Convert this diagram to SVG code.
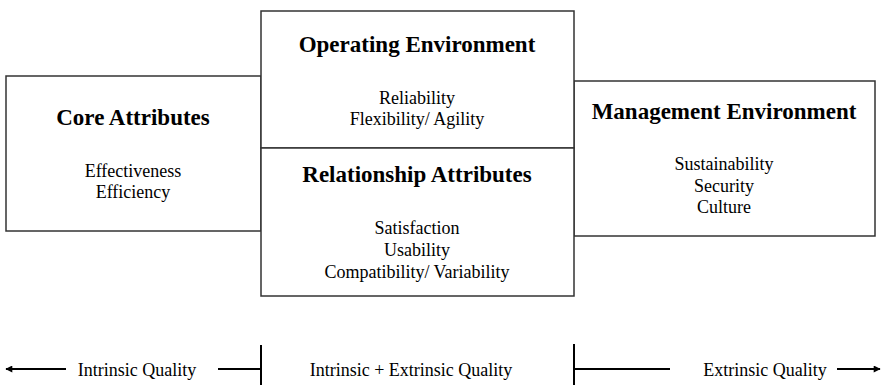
<svg xmlns="http://www.w3.org/2000/svg" width="882" height="387" viewBox="0 0 882 387">
<style>
.box{fill:#fff;stroke:#333;stroke-width:1.5}
.t{font-weight:bold;font-size:23px;fill:#000;text-anchor:middle}
.s{font-size:18px;fill:#000;text-anchor:middle}
.ln{stroke:#000;stroke-width:2;fill:none}
</style>
<defs>
<marker id="ah" viewBox="0 0 10 10" refX="9" refY="5" markerWidth="4" markerHeight="3.5" orient="auto-start-reverse" markerUnits="strokeWidth">
<path d="M0,0 L10,5 L0,10 z" fill="#000"/>
</marker>
</defs>
<g font-family="Liberation Serif, serif">
<g id="core">
<rect class="box" x="6" y="76" width="255" height="155"/>
<text class="t" x="133" y="125">Core Attributes</text>
<text class="s" x="133" y="177">Effectiveness</text>
<text class="s" x="133" y="198">Efficiency</text>
</g>
<g id="management">
<rect class="box" x="574" y="81" width="301" height="155"/>
<text class="t" x="724" y="119">Management Environment</text>
<text class="s" x="724" y="170">Sustainability</text>
<text class="s" x="724" y="192">Security</text>
<text class="s" x="724" y="213">Culture</text>
</g>
<g id="operating">
<rect class="box" x="261" y="11" width="313" height="137"/>
<text class="t" x="417" y="52">Operating Environment</text>
<text class="s" x="417" y="104">Reliability</text>
<text class="s" x="417" y="125">Flexibility/ Agility</text>
</g>
<g id="relationship">
<rect class="box" x="261" y="148" width="313" height="148"/>
<text class="t" x="417" y="182">Relationship Attributes</text>
<text class="s" x="417" y="234">Satisfaction</text>
<text class="s" x="417" y="256">Usability</text>
<text class="s" x="417" y="278">Compatibility/ Variability</text>
</g>
<g id="connectors">
<line class="ln" x1="66" y1="369" x2="6" y2="369" marker-end="url(#ah)"/>
<line class="ln" x1="218" y1="369" x2="261" y2="369"/>
<line class="ln" x1="261" y1="345" x2="261" y2="385"/>
<line class="ln" x1="574" y1="344" x2="574" y2="385"/>
<line class="ln" x1="574" y1="369" x2="670" y2="369"/>
<line class="ln" x1="837" y1="369" x2="880" y2="369" marker-end="url(#ah)"/>
</g>
<g id="axis-labels">
<text class="s" x="137" y="376">Intrinsic Quality</text>
<text class="s" x="411" y="376">Intrinsic + Extrinsic Quality</text>
<text class="s" x="765" y="376">Extrinsic Quality</text>
</g>
</g>
</svg>
